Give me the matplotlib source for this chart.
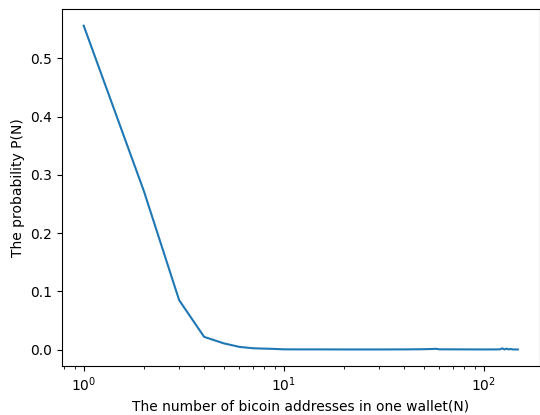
import matplotlib
matplotlib.use("Agg")
import matplotlib.pyplot as plt

n_addresses = [1, 2, 3, 4, 5, 6, 7, 8, 9, 10, 12, 15, 20, 30, 40, 50, 55, 58, 60, 65, 80, 100,
               120, 124, 127, 130, 133, 136, 140, 148]
probability = [0.556, 0.272, 0.085, 0.022, 0.011, 0.0048, 0.0025, 0.0018, 0.0013, 0.0006,
               0.0005, 0.0005, 0.0004, 0.0004, 0.0005, 0.0008, 0.0012, 0.0015, 0.0006, 0.0006,
               0.0005, 0.0004, 0.0005, 0.0022, 0.0003, 0.0020, 0.0004, 0.0012, 0.0004, 0.0004]

fig = plt.figure(figsize=(5.4, 4.15), dpi=100)
ax = fig.add_axes([62/540, 1-365.7/415, 477.5/540, 356.2/415])
ax.plot(n_addresses, probability, color='#1f77b4', linewidth=1.5)
ax.set_xscale('log')
ax.set_xlabel('The number of bicoin addresses in one wallet(N)')
ax.set_ylabel('The probability P(N)')
fig.savefig('out.png', dpi=100)
